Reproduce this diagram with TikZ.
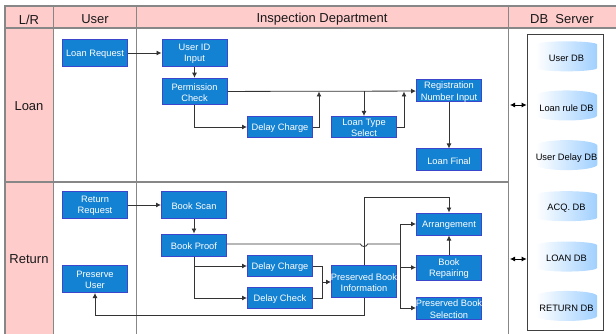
\documentclass[tikz,border=0pt]{standalone}
\usepackage{fontspec}
\setmainfont{Liberation Sans}
\usetikzlibrary{arrows.meta}
\usetikzlibrary{shapes.geometric}
\definecolor{lanegray}{RGB}{135,135,135}
\definecolor{lanepink}{RGB}{255,204,204}
\definecolor{boxfill}{RGB}{20,130,210}
\definecolor{boxedge}{RGB}{60,70,205}
\definecolor{dbblue}{RGB}{160,208,255}

\begin{document}
\begin{tikzpicture}[x=1pt,y=-1pt,
    lane/.style={draw=lanegray,line width=1.2pt},
    headtext/.style={font=\fontsize{13}{15}\selectfont,text=black!90,yshift=-2pt},
    procbox/.style={draw=boxedge,line width=1pt,fill=boxfill,minimum width=65pt,inner sep=0pt},
    procname/.style={text=white,inner sep=0pt,align=center,yshift=-1pt,font=\fontsize{9.3}{11.5}\selectfont},
    dbcyl/.style={cylinder,shape border rotate=90,aspect=0.18,minimum width=61pt,minimum height=30pt,inner sep=0pt,left color=white,right color=dbblue,font=\fontsize{9.3}{11}\selectfont},
    flow/.style={draw=black!80,line width=0.8pt,-{Latex[length=5pt,width=5pt]}},
    plain/.style={draw=black!80,line width=0.8pt},
    both/.style={draw=black,line width=0.8pt,{Latex[length=5pt,width=5pt]}-{Latex[length=5pt,width=5pt]}}]
    \useasboundingbox (0,0) rectangle (616,334);
    % lanes
    \fill[lanepink] (5,6) rectangle (616,28);
    \fill[lanepink] (5,28) rectangle (53.5,334);
    \draw[lane] (616,6) -- (5,6) -- (5,334);
    \draw[lane] (53.5,6) -- (53.5,334);
    \draw[lane] (136.5,6) -- (136.5,334);
    \draw[lane] (508.5,6) -- (508.5,334);
    \draw[lane] (5,28) -- (616,28);
    \draw[lane] (5,182) -- (508.5,182);
    \node[headtext] (lrhead) at (29,17.5) {L/R};
    \node[headtext] (userhead) at (95,17.5) {User};
    \node[headtext] (inspecthead) at (322,17.5) {Inspection Department};
    \node[headtext] (dbhead) at (562,17.5) {DB\ \ Server};
    \node[headtext] (loanlane) at (29,104) {Loan};
    \node[headtext] (returnlane) at (29,257) {Return};
    % loan
    \node[procbox,minimum height=26.5pt,label={[procname]center:Loan Request}] (loanreq) at (95,53) {};
    \node[procbox,minimum height=26.5pt,label={[procname]center:{User ID\\Input}}] (userid) at (194.5,53) {};
    \node[procbox,minimum height=26.5pt,label={[procname]center:{Permission\\Check}}] (permit) at (194.5,91.5) {};
    \node[procbox,minimum height=21pt,label={[procname]center:Delay Charge}] (delaycharge) at (280,127) {};
    \node[procbox,minimum height=21pt,label={[procname]center:{Loan Type\\Select}}] (loantype) at (364,127) {};
    \node[procbox,minimum height=22pt,label={[procname]center:{Registration\\Number Input}}] (regnum) at (449,91) {};
    \node[procbox,minimum height=22pt,label={[procname]center:Loan Final}] (loanfinal) at (449,160) {};
    % return
    \node[procbox,minimum height=26.5pt,label={[procname]center:{Return\\Request}}] (returnreq) at (95,205) {};
    \node[procbox,minimum height=27pt,label={[procname]center:{Preserve\\User}}] (preserveuser) at (95,279) {};
    \node[procbox,minimum height=26.5pt,label={[procname]center:Book Scan}] (bookscan) at (194,205) {};
    \node[procbox,minimum height=22pt,label={[procname]center:Book Proof}] (bookproof) at (194,245) {};
    \node[procbox,minimum height=21pt,label={[procname]center:Delay Charge}] (retcharge) at (280,266) {};
    \node[procbox,minimum height=21pt,label={[procname]center:Delay Check}] (retcheck) at (280,298) {};
    \node[procbox,minimum height=32pt,label={[procname]center:{Preserved Book\\Information}}] (bookinfo) at (364,281.5) {};
    \node[procbox,minimum height=22pt,label={[procname]center:Arrangement}] (arrange) at (449,224) {};
    \node[procbox,minimum height=25pt,label={[procname]center:{Book\\Repairing}}] (repair) at (449,267.5) {};
    \node[procbox,minimum height=22pt,label={[procname]center:{Preserved Book\\Selection}}] (selection) at (449,308) {};
    % db
    \node[draw=black!75,line width=0.8pt,minimum width=76pt,minimum height=295.5pt] (dbframe) at (565,182.5) {};
    \node[dbcyl] (userdb) at (566.5,58) {User DB};
    \node[dbcyl] (ruledb) at (566.5,108) {Loan rule DB};
    \node[dbcyl] (delaydb) at (566.5,158) {User Delay DB};
    \node[dbcyl] (acqdb) at (566.5,208) {ACQ. DB};
    \node[dbcyl] (loandb) at (566.5,258.5) {LOAN DB};
    \node[dbcyl] (returndb) at (566.5,308.5) {RETURN DB};
    \coordinate (linkloan) at (510,105);
    \coordinate (linkreturn) at (510,259);
    \draw[both] (linkloan) -- (linkloan -| dbframe.west);
    \draw[both] (linkreturn) -- (linkreturn -| dbframe.west);
    % loan flow
    \draw[flow] (loanreq) -- (userid);
    \draw[flow] (userid) -- (permit);
    \draw[flow] (permit) -- (regnum);
    \coordinate (tapone) at (319,91.5);
    \coordinate (taptwo) at (404,91.5);
    \draw[flow] (permit) |- (delaycharge);
    \draw[flow] (delaycharge) -| (tapone);
    \draw[flow] (loantype.north |- tapone) -- (loantype);
    \draw[flow] (loantype) -| (taptwo);
    \draw[flow] (regnum) -- (loanfinal);
    % return flow
    \coordinate (busjoin) at (400,244);
    \coordinate (mergedelay) at (322,282);
    \coordinate (topturn) at (364,197);
    \coordinate (lowturn) at (364,315);
    \draw[flow] (returnreq) -- (bookscan);
    \draw[flow] (bookscan) -- (bookproof);
    \draw[plain] (bookproof.east |- busjoin) -- (360.5,244) arc (180:0:3.5 and 2.5) -- (busjoin);
    \draw[flow] (busjoin) |- (arrange);
    \draw[flow] (busjoin) |- (repair);
    \draw[flow] (busjoin) |- (selection);
    \draw[flow] (bookproof) |- (retcharge);
    \draw[flow] (bookproof) |- (retcheck);
    \draw[plain] (retcharge) -| (mergedelay);
    \draw[plain] (retcheck) -| (mergedelay);
    \draw[flow] (mergedelay) -- (mergedelay -| bookinfo.west);
    \draw[flow] (bookinfo) -- (topturn) -| (arrange);
    \draw[flow] (bookinfo) -- (lowturn) -| (preserveuser);
    \draw[flow] (repair) -- (arrange);
\end{tikzpicture}
\end{document}
